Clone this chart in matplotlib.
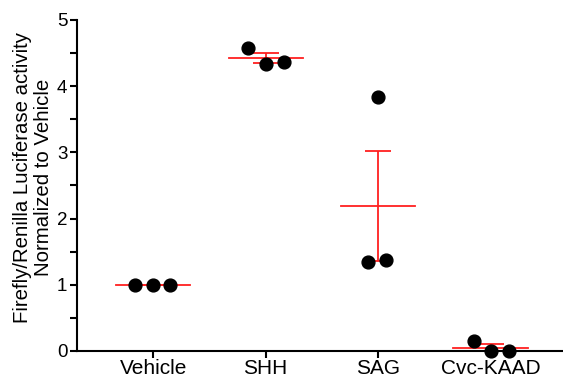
import numpy as np
import matplotlib
matplotlib.use('Agg')
import matplotlib.pyplot as plt
from matplotlib.ticker import MultipleLocator

plt.rcParams['font.family'] = ['Liberation Sans', 'DejaVu Sans']

# data
groups = ['Vehicle', 'SHH', 'SAG', 'Cvc-KAAD']
vehicle = [1.0, 1.0, 1.0]
shh = [4.57, 4.33, 4.37]
sag = [3.84, 1.35, 1.37]
cvc = [0.15, 0.0, 0.0]
jitter = [
    [-0.16, 0.0, 0.15],
    [-0.16, 0.0, 0.16],
    [0.0, -0.09, 0.07],
    [-0.15, 0.0, 0.16],
]

values = [vehicle, shh, sag, cvc]

fig = plt.figure(figsize=(5.63, 3.77), dpi=100)
ax = fig.add_axes([0.137, 0.069, 0.863, 0.878])

for i, (vals, jit) in enumerate(zip(values, jitter)):
    vals = np.array(vals)
    m = vals.mean()
    sem = vals.std(ddof=1) / np.sqrt(len(vals))
    # mean line
    ax.plot([i - 0.33, i + 0.33], [m, m], color='#ff2020', lw=1.3, zorder=2, clip_on=False)
    # sem bars
    ax.errorbar(i, m, yerr=sem, fmt='none', ecolor='#ff2020', elinewidth=1.3,
                capsize=9.5, capthick=1.3, zorder=2, clip_on=False)
    ax.scatter(np.array(jit) + i, vals, s=85, color='black', zorder=3, clip_on=False)

ax.set_xlim(-0.676, 3.644)
ax.set_ylim(0, 5)
ax.set_xticks(range(len(groups)))
ax.set_xticklabels(groups, fontsize=15)
ax.yaxis.set_major_locator(MultipleLocator(1))
ax.yaxis.set_minor_locator(MultipleLocator(0.5))
ax.tick_params(axis='y', which='major', labelsize=13.5, width=1.5, length=5, pad=2)
ax.tick_params(axis='y', which='minor', width=1.5, length=5)
ax.tick_params(axis='x', width=1.5, length=5, pad=1)

ax.spines['top'].set_visible(False)
ax.spines['right'].set_visible(False)
ax.spines['left'].set_linewidth(1.5)
ax.spines['bottom'].set_linewidth(1.5)

ax.set_ylabel('Firefly/Renilla Luciferase activity\nNormalized to Vehicle', fontsize=14.7,
              linespacing=1.1)
ax.yaxis.set_label_coords(-0.05, 0.523)

fig.savefig('out.png', dpi=100)
